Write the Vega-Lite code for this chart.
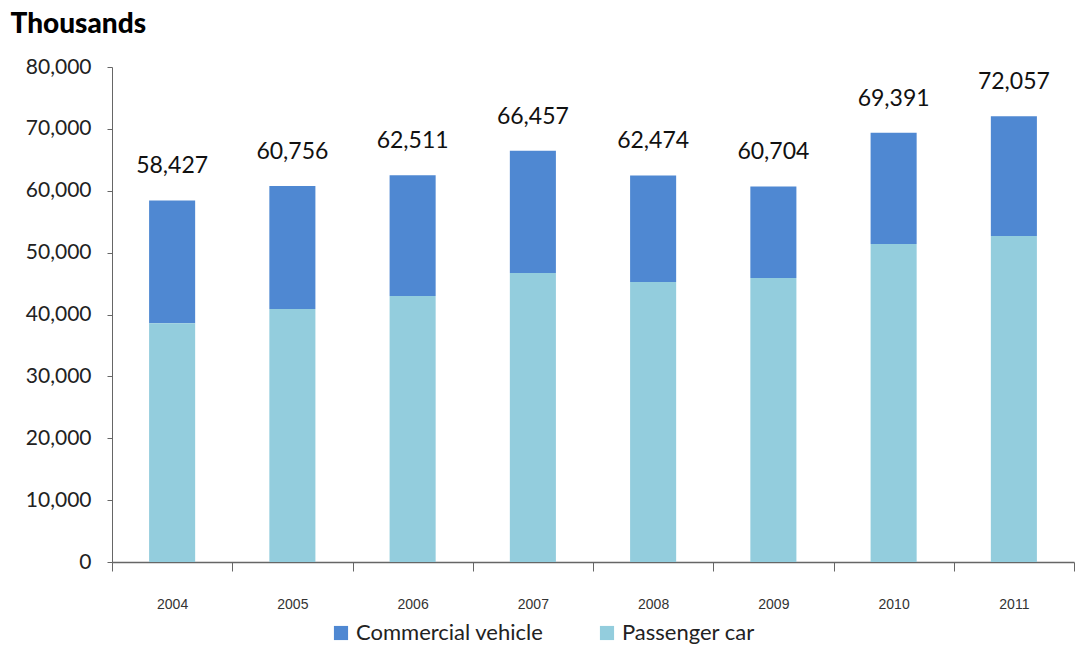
{
  "$schema": "https://vega.github.io/schema/vega-lite/v6.json",
  "autosize": "none",
  "width": 962,
  "height": 495,
  "padding": {"left": 112, "top": 67, "right": 4, "bottom": 86},
  "background": "white",
  "datasets": {
    "bars": [
      {"year": "2004", "type": "Commercial vehicle", "value": 19827},
      {"year": "2004", "type": "Passenger car", "value": 38600},
      {"year": "2005", "type": "Commercial vehicle", "value": 19856},
      {"year": "2005", "type": "Passenger car", "value": 40900},
      {"year": "2006", "type": "Commercial vehicle", "value": 19511},
      {"year": "2006", "type": "Passenger car", "value": 43000},
      {"year": "2007", "type": "Commercial vehicle", "value": 19757},
      {"year": "2007", "type": "Passenger car", "value": 46700},
      {"year": "2008", "type": "Commercial vehicle", "value": 17224},
      {"year": "2008", "type": "Passenger car", "value": 45250},
      {"year": "2009", "type": "Commercial vehicle", "value": 14804},
      {"year": "2009", "type": "Passenger car", "value": 45900},
      {"year": "2010", "type": "Commercial vehicle", "value": 17991},
      {"year": "2010", "type": "Passenger car", "value": 51400},
      {"year": "2011", "type": "Commercial vehicle", "value": 19357},
      {"year": "2011", "type": "Passenger car", "value": 52700}
    ],
    "totals": [
      {"year": "2004", "total": 58427},
      {"year": "2005", "total": 60756},
      {"year": "2006", "total": 62511},
      {"year": "2007", "total": 66457},
      {"year": "2008", "total": 62474},
      {"year": "2009", "total": 60704},
      {"year": "2010", "total": 69391},
      {"year": "2011", "total": 72057}
    ]
  },
  "config": {
    "view": {"stroke": null},
    "axis": {"grid": false, "domainColor": "#666666", "tickColor": "#666666"}
  },
  "layer": [
    {
      "data": {"name": "bars"},
      "mark": {"type": "bar", "width": {"band": 0.383}},
      "encoding": {
        "x": {
          "field": "year", "type": "ordinal",
          "scale": {"paddingInner": 0, "paddingOuter": 0},
          "axis": {
            "title": null, "labelAngle": 0, "tickBand": "extent", "tickSize": 9,
            "labelPadding": 26, "labelFont": "Liberation Sans", "labelFontSize": 14,
            "labelColor": "#333333", "domainWidth": 1.5
          }
        },
        "y": {
          "field": "value", "type": "quantitative", "stack": "zero",
          "scale": {"domain": [0, 80000], "nice": false},
          "axis": {
            "values": [0, 10000, 20000, 30000, 40000, 50000, 60000, 70000, 80000],
            "format": ",d", "tickSize": 5, "labelPadding": 16,
            "labelFont": "Lato", "labelFontSize": 21, "labelColor": "#222222",
            "title": "Thousands", "titleAngle": 0, "titleAlign": "left",
            "titleBaseline": "alphabetic", "titleX": -102, "titleY": -35,
            "titleFont": "Lato", "titleFontSize": 28, "titleFontWeight": 900,
            "titleColor": "#000000"
          }
        },
        "color": {
          "field": "type", "type": "nominal",
          "scale": {"domain": ["Commercial vehicle", "Passenger car"], "range": ["#4f88d2", "#93cddd"]},
          "legend": {
            "title": null, "orient": "none", "direction": "horizontal",
            "legendX": 218, "legendY": 555, "symbolType": "square", "symbolSize": 200,
            "symbolStrokeWidth": 0, "labelFont": "Lato", "labelFontSize": 22,
            "labelColor": "#222222", "columnPadding": 52, "labelOffset": 4, "labelLimit": 0
          }
        },
        "order": {"field": "type", "sort": "descending"}
      }
    },
    {
      "data": {"name": "totals"},
      "mark": {"type": "text", "baseline": "alphabetic", "dy": -27, "font": "Lato", "fontSize": 23, "color": "#111111"},
      "encoding": {
        "x": {"field": "year", "type": "ordinal"},
        "y": {"field": "total", "type": "quantitative"},
        "text": {"field": "total", "type": "quantitative", "format": ","}
      }
    }
  ]
}
